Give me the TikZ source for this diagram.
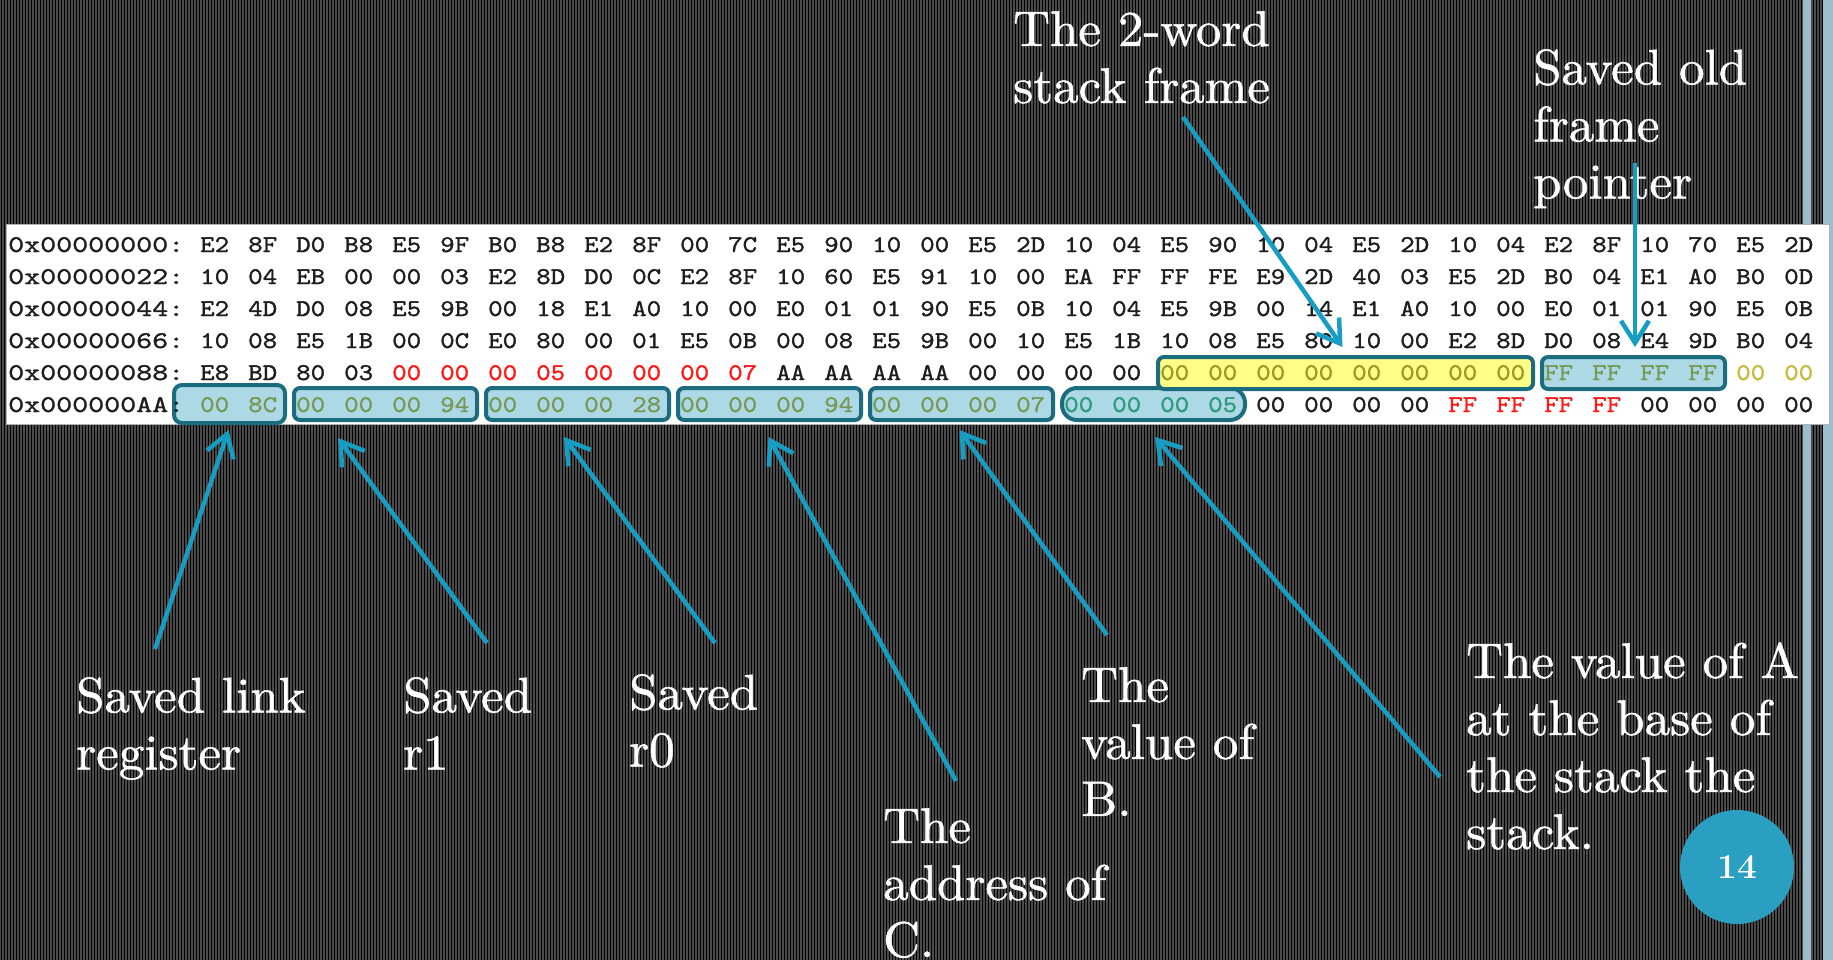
\documentclass[tikz,border=0pt]{standalone}
\usepackage{fontspec}
\usetikzlibrary{arrows.meta}
\usetikzlibrary{calc}

\newfontfamily\hexfont{lmmono10-regular.otf}[FakeStretch=1.15,FakeBold=1.3]
\newfontfamily\addrfont{lmmono10-regular.otf}[FakeStretch=1.27,FakeBold=1.3]
\newfontfamily\notefont{lmroman10-regular.otf}[FakeStretch=1.02,FakeBold=1]

\definecolor{slate}{HTML}{4A4A4A}
\definecolor{pin}{HTML}{353535}
\definecolor{rail}{HTML}{9DBFCD}
\definecolor{arrowblue}{HTML}{179CC2}
\definecolor{badge}{HTML}{2A9FC1}
\definecolor{boxline}{HTML}{1C6C7F}
\definecolor{boxfill}{HTML}{ADD8E6}
\definecolor{framefill}{HTML}{FFFF88}
\definecolor{hexink}{HTML}{1E1E1E}
\definecolor{hexred}{HTML}{FF1A1A}
\definecolor{hexolive}{HTML}{9A9A28}
\definecolor{hexpale}{HTML}{C4BC3C}
\definecolor{hexsaved}{HTML}{789A58}
\definecolor{hexteal}{HTML}{2E9C7C}

% one run of bytes: row, first column, colour, bytes
\newcommand\hexbytes[4]{%
  \foreach \b [count=\k from #2] in {#4}
    \node[hexbyte, text=#3] (h#1-\k) at (200+48*\k, 252+32*#1) {\b};}

\begin{document}
\begin{tikzpicture}[x=1pt,y=-1pt,
  hexbyte/.style={anchor=base west, inner sep=0pt, text=hexink, font=\hexfont\fontsize{24}{32}\selectfont},
  addr/.style={hexbyte, font=\addrfont\fontsize{24}{32}\selectfont},
  membox/.style={draw=boxline, fill=boxfill, line width=4pt, rounded corners=6pt, inner sep=0pt, minimum height=32pt},
  note/.style={anchor=north west, inner sep=0pt, align=left, text=white, font=\notefont\fontsize{50}{57}\selectfont},
  callout/.style={draw=arrowblue, line width=4.5pt, -{Straight Barb[length=22pt,width=28pt]}}]
\useasboundingbox (0,0) rectangle (1833,960);
\fill[slate] (0,0) rectangle (1833,960);
\foreach \x in {1,4,...,1831}
  \fill[pin] (\x,0) rectangle ++(1,960);
\fill[rail] (1803,0) rectangle (1811,960);
\fill[rail] (1823,0) rectangle (1833,960);

% memory dump
\filldraw[fill=white, draw=gray!60, line width=1pt] (6,224) rectangle (1829,424);
\node[membox, minimum width=111pt, minimum height=38pt, rounded corners=8pt] (bx-lr) at (229.5,404) {};
\node[membox, minimum width=183pt] (bx-r1) at (385.5,404) {};
\node[membox, minimum width=183pt] (bx-r0) at (577.5,404) {};
\node[membox, minimum width=183pt] (bx-addrC) at (769.5,404) {};
\node[membox, minimum width=183pt] (bx-valB) at (961.5,404) {};
\node[membox, minimum width=183pt, rounded corners=15pt] (bx-valA) at (1153.5,404) {};
\node[membox, fill=framefill, minimum width=375pt] (bx-frame) at (1345.5,373) {};
\node[membox, minimum width=183pt] (bx-oldfp) at (1633.5,373) {};

\foreach \r/\a in {0/00000000,1/00000022,2/00000044,3/00000066,4/00000088,5/000000AA}
  \node[addr] (addr\r) at (8, 252+32*\r) {0x\a:};
\hexbytes{0}{0}{hexink}{E2,8F,D0,B8,E5,9F,B0,B8,E2,8F,00,7C,E5,90,10,00,E5,2D,10,04,E5,90,10,04,E5,2D,10,04,E2,8F,10,70,E5,2D}
\hexbytes{1}{0}{hexink}{10,04,EB,00,00,03,E2,8D,D0,0C,E2,8F,10,60,E5,91,10,00,EA,FF,FF,FE,E9,2D,40,03,E5,2D,B0,04,E1,A0,B0,0D}
\hexbytes{2}{0}{hexink}{E2,4D,D0,08,E5,9B,00,18,E1,A0,10,00,E0,01,01,90,E5,0B,10,04,E5,9B,00,14,E1,A0,10,00,E0,01,01,90,E5,0B}
\hexbytes{3}{0}{hexink}{10,08,E5,1B,00,0C,E0,80,00,01,E5,0B,00,08,E5,9B,00,10,E5,1B,10,08,E5,80,10,00,E2,8D,D0,08,E4,9D,B0,04}
\hexbytes{4}{0}{hexink}{E8,BD,80,03}
\hexbytes{4}{4}{hexred}{00,00,00,05,00,00,00,07}
\hexbytes{4}{12}{hexink}{AA,AA,AA,AA,00,00,00,00}
\hexbytes{4}{20}{hexolive}{00,00,00,00,00,00,00,00}
\hexbytes{4}{28}{hexsaved}{FF,FF,FF,FF}
\hexbytes{4}{32}{hexpale}{00,00}
\hexbytes{5}{0}{hexsaved}{00,8C,00,00,00,94,00,00,00,28,00,00,00,94,00,00,00,07}
\hexbytes{5}{18}{hexteal}{00,00,00,05}
\hexbytes{5}{22}{hexink}{00,00,00,00}
\hexbytes{5}{26}{hexred}{FF,FF,FF,FF}
\hexbytes{5}{30}{hexink}{00,00,00,00}

% labels
\node[note] (frame) at (1013,11) {The 2-word\\stack frame};
\node[note] (oldfp) at (1533,49) {Saved old\\frame\\pointer};
\node[note] (lr) at (76,677) {Saved link\\register};
\node[note] (r1) at (403,677) {Saved\\r1};
\node[note] (r0) at (629,674) {Saved\\r0};
\node[note] (addrC) at (883,808) {The\\address of\\C.};
\node[note] (valB) at (1081,667) {The\\value of\\B.};
\node[note] (valA) at (1466,642) {The value of A\\at the base of\\the stack the\\stack.};

\coordinate (frame-from) at (1183,117);
\coordinate (oldfp-from) at (1635,163);
\coordinate (lr-from) at (155,649);
\coordinate (r1-from) at (487,643);
\coordinate (r0-from) at (715,643);
\coordinate (addrC-from) at (956,781);
\coordinate (valB-from) at (1107,635);
\coordinate (valA-from) at (1440,777);

\draw[callout] (frame-from) -- ($(bx-frame.north)+(-3,-8)$);
\draw[callout] (oldfp-from) -- ($(bx-oldfp.north)+(1.5,-8)$);
\draw[callout] (lr-from) -- ($(bx-lr.south)+(-1,5)$);
\draw[callout] (r1-from) -- ($(bx-r1.south west)+(46,16)$);
\draw[callout] (r0-from) -- ($(bx-r0.south west)+(80,15)$);
\draw[callout] (addrC-from) -- ($(bx-addrC.south)+(-1,15)$);
\draw[callout] (valB-from) -- ($(bx-valB.south)+(-2,8)$);
\draw[callout] (valA-from) -- ($(bx-valA.south west)+(95,15)$);

\node[circle, fill=badge, minimum size=114pt, inner sep=0pt, text=white, font=\bfseries\fontsize{35}{40}\selectfont] (page) at (1737,867) {14};
\end{tikzpicture}
\end{document}
